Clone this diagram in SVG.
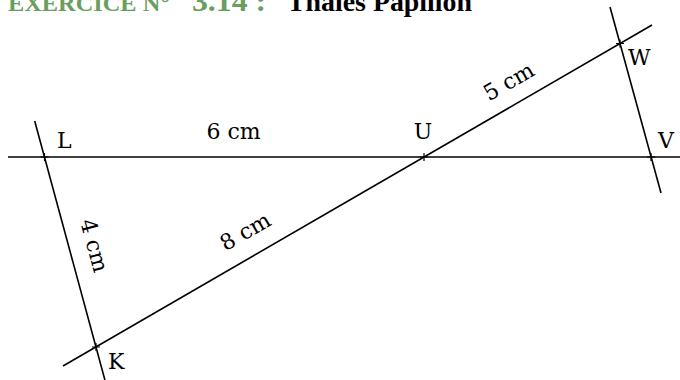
<svg xmlns="http://www.w3.org/2000/svg" width="680" height="380" viewBox="0 0 680 380">
<style>
.ln{stroke:#000;stroke-width:1.6;fill:none;stroke-linecap:butt}
.tk{stroke:#000;stroke-width:1.2;fill:none}
.lb{font-family:"DejaVu Serif","Liberation Serif",serif;font-size:22px;fill:#000}
.tg{font-family:"Liberation Serif",serif;font-weight:bold;fill:#6a9e5e}
.tb{font-family:"Liberation Serif",serif;font-weight:bold;fill:#000}
</style>
<rect width="680" height="380" fill="#fff"/>
<g id="title">
<text class="tg" x="8" y="11" font-size="24" textLength="162" lengthAdjust="spacingAndGlyphs">EXERCICE N°</text>
<text class="tg" x="192" y="11" font-size="30" textLength="74" lengthAdjust="spacingAndGlyphs">3.14 :</text>
<text class="tb" x="287" y="11" font-size="27" textLength="185" lengthAdjust="spacingAndGlyphs">Thales Papillon</text>
</g>
<g id="connectors">
<line class="ln" x1="8" y1="157" x2="680" y2="157"/>
<line class="ln" x1="34.7" y1="121" x2="106" y2="384"/>
<line class="ln" x1="63" y1="366" x2="652" y2="25"/>
<line class="ln" x1="610" y1="7" x2="661" y2="193"/>
<text class="lb" x="233.5" y="139" text-anchor="middle">6 cm</text>
<text class="lb" x="249" y="238" text-anchor="middle" transform="rotate(-30.07 249 238)">8 cm</text>
<text class="lb" x="512.5" y="88" text-anchor="middle" transform="rotate(-30.07 512.5 88)">5 cm</text>
<text class="lb" x="87" y="247.5" text-anchor="middle" transform="rotate(74.8 87 247.5)">4 cm</text>
</g>
<g id="L">
<path class="tk" d="M40.5 157h8M44.5 153v8"/>
<text class="lb" x="57" y="148">L</text>
</g>
<g id="U">
<path class="tk" d="M420 157h8M424 153v8"/>
<text class="lb" x="423" y="139" text-anchor="middle">U</text>
</g>
<g id="V">
<path class="tk" d="M647 157h8M651 153v8"/>
<text class="lb" x="658" y="148">V</text>
</g>
<g id="W">
<path class="tk" d="M616 43.5h8M620 39.5v8"/>
<text class="lb" x="628" y="65">W</text>
</g>
<g id="K">
<path class="tk" d="M92 347h8M96 343v8"/>
<text class="lb" x="108" y="369">K</text>
</g>
</svg>
